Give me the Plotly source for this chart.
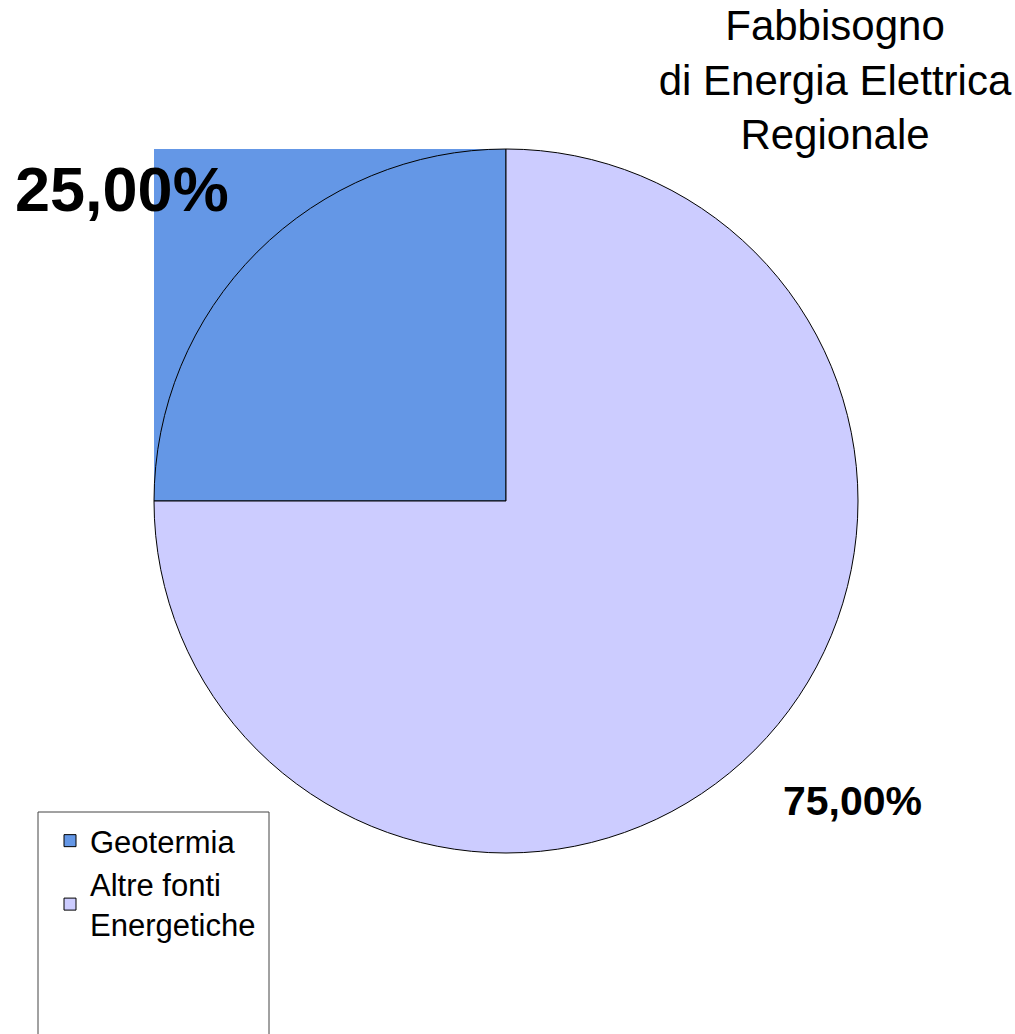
import math
import plotly.graph_objects as go

# ---- data ----
categories = ["Geotermia", "Altre fonti<br>Energetiche"]
values = [25, 75]
colors = ["#6497E6", "#CCCCFF"]
label_sizes = [63, 41]
title_text = "Fabbisogno<br>di Energia Elettrica<br>Regionale"

W, H = 1015, 1034
FONT = "Liberation Sans, Arial, sans-serif"

# pie domain (paper)
dom_x = [154 / W, 858 / W]
dom_y = [1 - 853 / H, 1 - 149 / H]
cx = (dom_x[0] + dom_x[1]) / 2
cy = (dom_y[0] + dom_y[1]) / 2
r_px = min((dom_x[1] - dom_x[0]) * W, (dom_y[1] - dom_y[0]) * H) / 2

fig = go.Figure()
fig.add_trace(go.Pie(
    labels=categories,
    values=values,
    sort=False,
    direction="clockwise",
    rotation=270,
    marker=dict(colors=colors, line=dict(color="#000000", width=1)),
    textinfo="none",
    hoverinfo="label+percent",
    domain=dict(x=dom_x, y=dom_y),
    showlegend=True,
))

# slice angles in math convention: start at 9 o'clock (180 deg), going clockwise
total = sum(values)
start = 180.0
shapes = []
annotations = []
for i, v in enumerate(values):
    span = 360.0 * v / total
    a0, a1 = start - span, start
    mid = math.radians((a0 + a1) / 2)
    if i == 0:
        # bounding box of the first slice (texture fill artifact in the reference)
        pts = [(0.0, 0.0)]
        angs = [a0, a1] + [k * 90.0 for k in range(-8, 9) if a0 <= k * 90.0 <= a1]
        for a in angs:
            pts.append((math.cos(math.radians(a)), math.sin(math.radians(a))))
        xs = [p[0] for p in pts]
        ys = [p[1] for p in pts]
        shapes.append(dict(
            type="rect", xref="paper", yref="paper", layer="below",
            x0=cx + min(xs) * r_px / W, x1=cx + max(xs) * r_px / W,
            y0=cy + min(ys) * r_px / H, y1=cy + max(ys) * r_px / H,
            fillcolor=colors[i], line=dict(width=0),
        ))
    dx, dy = math.cos(mid), math.sin(mid)
    pct = 100.0 * v / total
    annotations.append(dict(
        xref="paper", yref="paper",
        x=cx + 1.105 * r_px * dx / W, y=cy + 1.105 * r_px * dy / H,
        xanchor="right" if dx < 0 else "left",
        yanchor="bottom" if dy > 0 else "top",
        text=f"<b>{pct:.2f}%</b>".replace(".", ","),
        showarrow=False,
        font=dict(family=FONT, size=label_sizes[i], color="#000000"),
    ))
    start = a0

# legend frame (extends past bottom edge as in reference)
shapes.append(dict(
    type="rect", xref="paper", yref="paper",
    x0=38 / W, x1=269 / W, y0=-0.05, y1=1 - 812 / H,
    line=dict(color="#444444", width=1), fillcolor="rgba(0,0,0,0)",
))

fig.update_layout(
    width=W, height=H,
    margin=dict(l=0, r=0, t=0, b=0),
    paper_bgcolor="#FFFFFF",
    plot_bgcolor="#FFFFFF",
    font=dict(family=FONT, color="#000000"),
    title=dict(
        text=title_text,
        x=835 / W, xanchor="center", xref="paper",
        y=1 - 40 / H, yanchor="top", yref="paper",
        font=dict(family=FONT, size=42, color="#000000"),
    ),
    legend=dict(
        x=50 / W, y=1 - 814 / H, xanchor="left", yanchor="top",
        font=dict(family=FONT, size=31, color="#000000"),
        bgcolor="rgba(0,0,0,0)", borderwidth=0,
        tracegroupgap=4,
    ),
    shapes=shapes,
    annotations=annotations,
)

fig.write_html(
    "out.html",
    config={"displayModeBar": False},
    post_script="document.body.style.margin='0';",
)
